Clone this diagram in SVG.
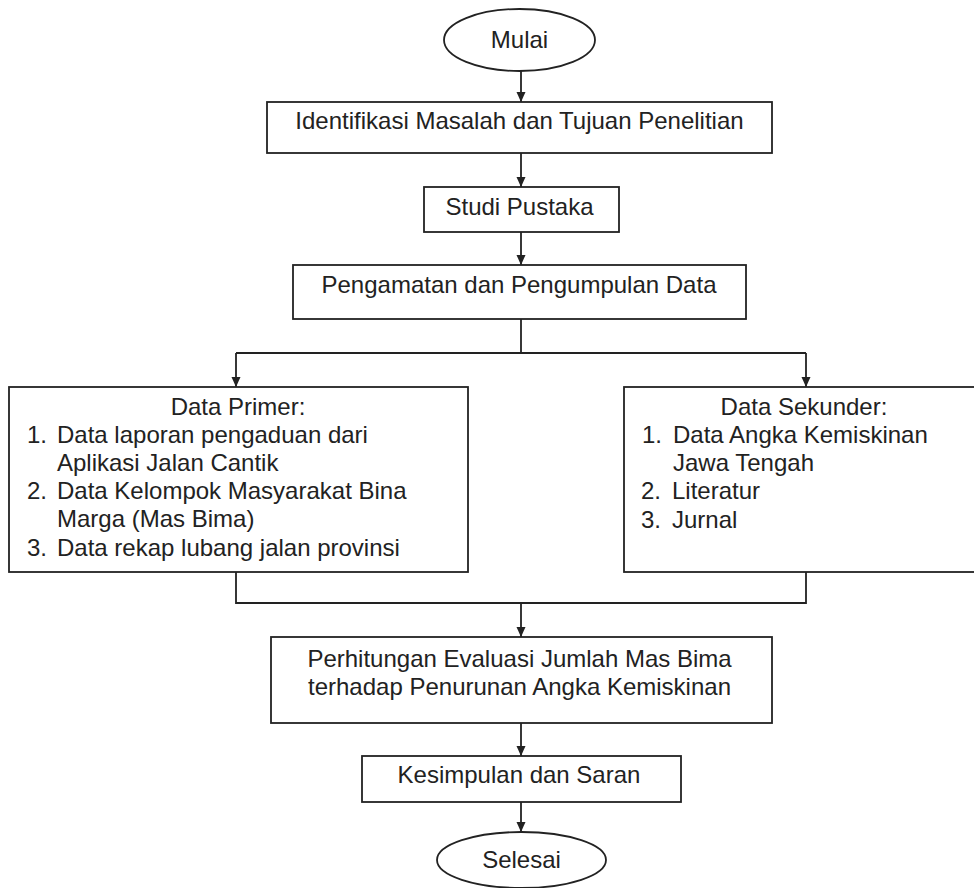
<svg xmlns="http://www.w3.org/2000/svg" width="974" height="888" viewBox="0 0 974 888">
<style>
.box{fill:#fff;stroke:#222;stroke-width:1.8}
.t{font-family:"Liberation Sans",Arial,sans-serif;font-size:24px;fill:#222}
.c{text-anchor:middle}
.ln{fill:none;stroke:#222;stroke-width:1.8}
</style>
<defs>
<marker id="ah" markerUnits="userSpaceOnUse" markerWidth="10" markerHeight="10" refX="10" refY="5" orient="auto">
<path d="M0,0.5 L10,5 L0,9.5 z" fill="#222"/>
</marker>
</defs>
<rect width="974" height="888" fill="#fff"/>
<g id="connectors">
<path class="ln" d="M521,71 V102" marker-end="url(#ah)"/>
<path class="ln" d="M521,153 V187" marker-end="url(#ah)"/>
<path class="ln" d="M521,232 V265" marker-end="url(#ah)"/>
<path class="ln" d="M521,319 V353"/>
<path class="ln" d="M236,353 H806"/>
<path class="ln" d="M236,353 V387" marker-end="url(#ah)"/>
<path class="ln" d="M806,353 V387" marker-end="url(#ah)"/>
<path class="ln" d="M236,572 V603 H806 V572"/>
<path class="ln" d="M521,603 V637" marker-end="url(#ah)"/>
<path class="ln" d="M521,723 V756" marker-end="url(#ah)"/>
<path class="ln" d="M521,802 V832" marker-end="url(#ah)"/>
</g>
<g id="mulai">
<ellipse class="box" cx="519.5" cy="40" rx="75.5" ry="31"/>
<text class="t c" x="519.5" y="48">Mulai</text>
</g>
<g id="identifikasi">
<rect class="box" x="267" y="102" width="505" height="51"/>
<text class="t c" x="519.5" y="129">Identifikasi Masalah dan Tujuan Penelitian</text>
</g>
<g id="studi">
<rect class="box" x="424" y="187" width="195" height="45"/>
<text class="t c" x="519.5" y="215">Studi Pustaka</text>
</g>
<g id="pengamatan">
<rect class="box" x="293" y="265" width="453" height="54"/>
<text class="t c" x="519" y="293">Pengamatan dan Pengumpulan Data</text>
</g>
<g id="primer">
<rect class="box" x="9" y="387" width="459" height="185"/>
<text class="t c" x="238" y="415">Data Primer:</text>
<text class="t" x="27" y="443">1.</text>
<text class="t" x="57" y="443">Data laporan pengaduan dari</text>
<text class="t" x="57" y="471">Aplikasi Jalan Cantik</text>
<text class="t" x="27" y="499">2.</text>
<text class="t" x="57" y="499">Data Kelompok Masyarakat Bina</text>
<text class="t" x="57" y="527">Marga (Mas Bima)</text>
<text class="t" x="27" y="556">3.</text>
<text class="t" x="57" y="556">Data rekap lubang jalan provinsi</text>
</g>
<g id="sekunder">
<rect class="box" x="624" y="387" width="366" height="185"/>
<text class="t c" x="804" y="415">Data Sekunder:</text>
<text class="t" x="642" y="443">1.</text>
<text class="t" x="673" y="443">Data Angka Kemiskinan</text>
<text class="t" x="673" y="471">Jawa Tengah</text>
<text class="t" x="641" y="499">2.</text>
<text class="t" x="672" y="499">Literatur</text>
<text class="t" x="641" y="528">3.</text>
<text class="t" x="672" y="528">Jurnal</text>
</g>
<g id="perhitungan">
<rect class="box" x="271" y="637" width="501" height="86"/>
<text class="t c" x="519.5" y="667">Perhitungan Evaluasi Jumlah Mas Bima</text>
<text class="t c" x="519.5" y="695">terhadap Penurunan Angka Kemiskinan</text>
</g>
<g id="kesimpulan">
<rect class="box" x="362" y="756" width="319" height="46"/>
<text class="t c" x="519" y="783">Kesimpulan dan Saran</text>
</g>
<g id="selesai">
<ellipse class="box" cx="521.5" cy="860" rx="84.5" ry="28"/>
<text class="t c" x="521.5" y="868">Selesai</text>
</g>
</svg>
